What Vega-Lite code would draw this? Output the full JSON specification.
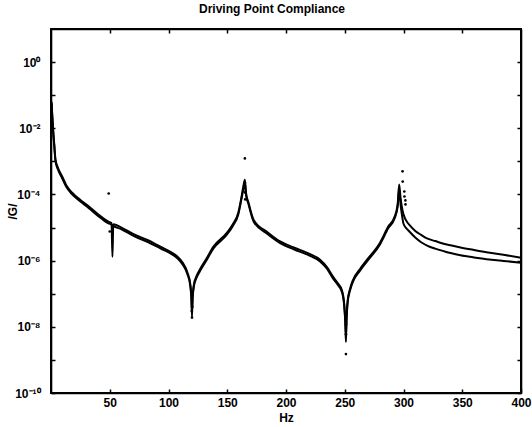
{
  "$schema": "https://vega.github.io/schema/vega-lite/v6.json",
  "width": 470,
  "height": 364,
  "autosize": {"type": "none"},
  "padding": {"left": 51, "top": 29, "right": 11, "bottom": 34},
  "config": {
    "font": "Liberation Sans",
    "view": {"stroke": "#000000", "strokeWidth": 2},
    "axis": {"grid": false, "labelFlush": false, "labelOverlap": false}
  },
  "title": {
    "text": "Driving Point Compliance",
    "fontSize": 12,
    "fontWeight": "bold",
    "anchor": "middle",
    "dx": -14,
    "offset": 12,
    "color": "#000000"
  },
  "data": {
    "values": [
      {"hz": 0.5, "g": 6.3e-2, "s": "A"}, {"hz": 1, "g": 2.8e-2, "s": "A"}, {"hz": 1.8, "g": 9.3e-3, "s": "A"},
      {"hz": 2.8, "g": 3.2e-3, "s": "A"}, {"hz": 3.8, "g": 1.15e-3, "s": "A"}, {"hz": 6, "g": 6.3e-4, "s": "A"},
      {"hz": 9.5, "g": 3.5e-4, "s": "A"}, {"hz": 13, "g": 1.9e-4, "s": "A"}, {"hz": 17.8, "g": 1.15e-4, "s": "A"},
      {"hz": 25, "g": 6.8e-5, "s": "A"}, {"hz": 32, "g": 4.4e-5, "s": "A"}, {"hz": 42.9, "g": 2.1e-5, "s": "A"},
      {"hz": 48.9, "g": 1.5e-5, "s": "A"}, {"hz": 51.5, "g": 1.38e-5, "s": "A"}, {"hz": 52.3, "g": 1.3e-6, "s": "A"},
      {"hz": 53, "g": 1.26e-5, "s": "A"}, {"hz": 60, "g": 1.0e-5, "s": "A"}, {"hz": 70.7, "g": 6.2e-6, "s": "A"},
      {"hz": 82, "g": 4.2e-6, "s": "A"}, {"hz": 93.5, "g": 2.6e-6, "s": "A"}, {"hz": 101, "g": 1.9e-6, "s": "A"},
      {"hz": 107.8, "g": 1.3e-6, "s": "A"}, {"hz": 112, "g": 8.7e-7, "s": "A"}, {"hz": 116.1, "g": 4.4e-7, "s": "A"},
      {"hz": 118.5, "g": 2.0e-7, "s": "A"}, {"hz": 119.5, "g": 7.9e-8, "s": "A"}, {"hz": 120, "g": 2.0e-8, "s": "A"},
      {"hz": 120.5, "g": 7.9e-8, "s": "A"}, {"hz": 121.5, "g": 1.8e-7, "s": "A"}, {"hz": 124, "g": 3.5e-7, "s": "A"},
      {"hz": 126.7, "g": 5.4e-7, "s": "A"}, {"hz": 132, "g": 1.1e-6, "s": "A"}, {"hz": 138.1, "g": 2.6e-6, "s": "A"},
      {"hz": 150, "g": 7.1e-6, "s": "A"}, {"hz": 155, "g": 1.3e-5, "s": "A"}, {"hz": 159.4, "g": 2.8e-5, "s": "A"},
      {"hz": 162, "g": 7.9e-5, "s": "A"}, {"hz": 164, "g": 2.0e-4, "s": "A"}, {"hz": 165, "g": 2.8e-4, "s": "A"},
      {"hz": 166, "g": 1.1e-4, "s": "A"}, {"hz": 168, "g": 5.8e-5, "s": "A"}, {"hz": 172.5, "g": 1.7e-5, "s": "A"},
      {"hz": 184.5, "g": 7.1e-6, "s": "A"}, {"hz": 195, "g": 3.8e-6, "s": "A"}, {"hz": 206.6, "g": 2.5e-6, "s": "A"},
      {"hz": 220, "g": 1.6e-6, "s": "A"}, {"hz": 229, "g": 1.07e-6, "s": "A"}, {"hz": 235, "g": 6.3e-7, "s": "A"},
      {"hz": 240, "g": 3.3e-7, "s": "A"}, {"hz": 244, "g": 2.1e-7, "s": "A"}, {"hz": 247.5, "g": 1.3e-7, "s": "A"},
      {"hz": 249.5, "g": 5.0e-8, "s": "A"}, {"hz": 250.5, "g": 1.26e-8, "s": "A"}, {"hz": 251, "g": 3.5e-9, "s": "A"},
      {"hz": 251.5, "g": 1.6e-8, "s": "A"}, {"hz": 252.5, "g": 6.3e-8, "s": "A"}, {"hz": 254.5, "g": 1.4e-7, "s": "A"},
      {"hz": 257, "g": 2.6e-7, "s": "A"}, {"hz": 263, "g": 5.6e-7, "s": "A"}, {"hz": 269, "g": 1.07e-6, "s": "A"},
      {"hz": 280, "g": 3.5e-6, "s": "A"}, {"hz": 287, "g": 1.07e-5, "s": "A"}, {"hz": 292.4, "g": 2.1e-5, "s": "A"},
      {"hz": 295, "g": 5.0e-5, "s": "A"}, {"hz": 296.3, "g": 2.0e-4, "s": "A"}, {"hz": 297.5, "g": 7.9e-5, "s": "A"},
      {"hz": 299, "g": 3.5e-5, "s": "A"}, {"hz": 300, "g": 2.5e-5, "s": "A"}, {"hz": 303.5, "g": 1.4e-5, "s": "A"},
      {"hz": 305, "g": 1.2e-5, "s": "A"}, {"hz": 310, "g": 7.9e-6, "s": "A"}, {"hz": 315, "g": 6.0e-6, "s": "A"},
      {"hz": 320.5, "g": 4.6e-6, "s": "A"}, {"hz": 327, "g": 3.9e-6, "s": "A"}, {"hz": 335, "g": 3.2e-6, "s": "A"},
      {"hz": 340, "g": 2.9e-6, "s": "A"}, {"hz": 348.5, "g": 2.5e-6, "s": "A"}, {"hz": 360, "g": 2.1e-6, "s": "A"},
      {"hz": 375, "g": 1.7e-6, "s": "A"}, {"hz": 385, "g": 1.5e-6, "s": "A"}, {"hz": 400, "g": 1.23e-6, "s": "A"},

      {"hz": 0.5, "g": 5.6e-2, "s": "B"}, {"hz": 1, "g": 2.5e-2, "s": "B"}, {"hz": 1.8, "g": 8.3e-3, "s": "B"},
      {"hz": 2.8, "g": 2.85e-3, "s": "B"}, {"hz": 3.8, "g": 1.02e-3, "s": "B"}, {"hz": 6, "g": 5.6e-4, "s": "B"},
      {"hz": 9.5, "g": 3.1e-4, "s": "B"}, {"hz": 13, "g": 1.7e-4, "s": "B"}, {"hz": 17.8, "g": 1.02e-4, "s": "B"},
      {"hz": 25, "g": 6.1e-5, "s": "B"}, {"hz": 32, "g": 3.9e-5, "s": "B"}, {"hz": 42.9, "g": 1.87e-5, "s": "B"},
      {"hz": 48.9, "g": 1.33e-5, "s": "B"}, {"hz": 51.5, "g": 1.23e-5, "s": "B"}, {"hz": 53, "g": 1.12e-5, "s": "B"},
      {"hz": 60, "g": 8.9e-6, "s": "B"}, {"hz": 70.7, "g": 5.5e-6, "s": "B"}, {"hz": 82, "g": 3.7e-6, "s": "B"},
      {"hz": 93.5, "g": 2.3e-6, "s": "B"}, {"hz": 101, "g": 1.7e-6, "s": "B"}, {"hz": 107.8, "g": 1.16e-6, "s": "B"},
      {"hz": 112, "g": 7.7e-7, "s": "B"}, {"hz": 116.1, "g": 3.9e-7, "s": "B"}, {"hz": 118.5, "g": 1.75e-7, "s": "B"},
      {"hz": 119.5, "g": 7.0e-8, "s": "B"}, {"hz": 120, "g": 3.0e-8, "s": "B"}, {"hz": 120.5, "g": 7.0e-8, "s": "B"},
      {"hz": 121.5, "g": 1.6e-7, "s": "B"}, {"hz": 124, "g": 3.1e-7, "s": "B"}, {"hz": 126.7, "g": 4.8e-7, "s": "B"},
      {"hz": 132, "g": 9.8e-7, "s": "B"}, {"hz": 138.1, "g": 2.3e-6, "s": "B"}, {"hz": 150, "g": 6.3e-6, "s": "B"},
      {"hz": 155, "g": 1.16e-5, "s": "B"}, {"hz": 159.4, "g": 2.5e-5, "s": "B"}, {"hz": 162, "g": 7.0e-5, "s": "B"},
      {"hz": 164, "g": 1.6e-4, "s": "B"}, {"hz": 165, "g": 2.2e-4, "s": "B"}, {"hz": 166, "g": 9.5e-5, "s": "B"},
      {"hz": 168, "g": 5.2e-5, "s": "B"}, {"hz": 172.5, "g": 1.5e-5, "s": "B"}, {"hz": 184.5, "g": 6.3e-6, "s": "B"},
      {"hz": 195, "g": 3.4e-6, "s": "B"}, {"hz": 206.6, "g": 2.2e-6, "s": "B"}, {"hz": 220, "g": 1.42e-6, "s": "B"},
      {"hz": 229, "g": 9.5e-7, "s": "B"}, {"hz": 235, "g": 5.6e-7, "s": "B"}, {"hz": 240, "g": 2.9e-7, "s": "B"},
      {"hz": 244, "g": 1.87e-7, "s": "B"}, {"hz": 247.5, "g": 1.16e-7, "s": "B"}, {"hz": 249.5, "g": 4.5e-8, "s": "B"},
      {"hz": 250.5, "g": 1.4e-8, "s": "B"}, {"hz": 251, "g": 6.0e-9, "s": "B"}, {"hz": 251.5, "g": 1.6e-8, "s": "B"},
      {"hz": 252.5, "g": 5.6e-8, "s": "B"}, {"hz": 254.5, "g": 1.25e-7, "s": "B"}, {"hz": 257, "g": 2.3e-7, "s": "B"},
      {"hz": 263, "g": 5.0e-7, "s": "B"}, {"hz": 269, "g": 9.5e-7, "s": "B"}, {"hz": 280, "g": 3.1e-6, "s": "B"},
      {"hz": 287, "g": 9.5e-6, "s": "B"}, {"hz": 292.4, "g": 1.87e-5, "s": "B"}, {"hz": 295, "g": 4.2e-5, "s": "B"},
      {"hz": 296.3, "g": 1.4e-4, "s": "B"}, {"hz": 297.5, "g": 5.0e-5, "s": "B"}, {"hz": 299, "g": 2.0e-5, "s": "B"},
      {"hz": 300, "g": 1.3e-5, "s": "B"}, {"hz": 303.5, "g": 8.7e-6, "s": "B"}, {"hz": 305, "g": 7.6e-6, "s": "B"},
      {"hz": 310, "g": 5.0e-6, "s": "B"}, {"hz": 315, "g": 3.6e-6, "s": "B"}, {"hz": 320.5, "g": 2.8e-6, "s": "B"},
      {"hz": 327, "g": 2.3e-6, "s": "B"}, {"hz": 335, "g": 1.9e-6, "s": "B"}, {"hz": 340, "g": 1.7e-6, "s": "B"},
      {"hz": 348.5, "g": 1.45e-6, "s": "B"}, {"hz": 360, "g": 1.25e-6, "s": "B"}, {"hz": 375, "g": 1.07e-6, "s": "B"},
      {"hz": 385, "g": 9.8e-7, "s": "B"}, {"hz": 400, "g": 8.7e-7, "s": "B"},

      {"hz": 49.1, "g": 1.07e-4, "s": "dot"}, {"hz": 50, "g": 7.6e-6, "s": "dot"},
      {"hz": 119.8, "g": 3.0e-8, "s": "dot"}, {"hz": 120.2, "g": 4.0e-8, "s": "dot"}, {"hz": 120, "g": 1.9e-8, "s": "dot"},
      {"hz": 165, "g": 1.23e-3, "s": "dot"}, {"hz": 165, "g": 2.3e-4, "s": "dot"}, {"hz": 165.2, "g": 1.15e-4, "s": "dot"},
      {"hz": 165.3, "g": 7.1e-5, "s": "dot"},
      {"hz": 250.9, "g": 2.2e-8, "s": "dot"}, {"hz": 251.1, "g": 1.2e-8, "s": "dot"}, {"hz": 251, "g": 6.0e-9, "s": "dot"},
      {"hz": 251, "g": 1.5e-9, "s": "dot"},
      {"hz": 299.2, "g": 5.0e-4, "s": "dot"}, {"hz": 299.3, "g": 2.45e-4, "s": "dot"}, {"hz": 300.7, "g": 1.23e-4, "s": "dot"},
      {"hz": 300.8, "g": 8.7e-5, "s": "dot"}, {"hz": 301.6, "g": 6.6e-5, "s": "dot"}, {"hz": 301.7, "g": 5.0e-5, "s": "dot"}
    ]
  },
  "layer": [
    {
      "mark": {"type": "rect", "filled": false, "stroke": "#000000", "strokeWidth": 1.6},
      "encoding": {
        "x": {"datum": 0, "type": "quantitative", "axis": null},
        "x2": {"datum": 400},
        "y": {"datum": 1e-10, "type": "quantitative", "axis": null},
        "y2": {"datum": 10}
      }
    },
    {
      "transform": [{"filter": "datum.s != 'dot'"}],
      "mark": {"type": "line", "color": "#000000", "strokeWidth": 2, "interpolate": "monotone"},
      "encoding": {
        "x": {
          "field": "hz", "type": "quantitative",
          "scale": {"domain": [0, 400], "nice": false, "zero": false},
          "axis": {
            "orient": "bottom", "values": [50, 100, 150, 200, 250, 300, 350, 400],
            "domainColor": "#000000", "domainWidth": 1.6, "tickColor": "#000000", "tickWidth": 1.5, "tickSize": -4, "labelPadding": 8,
            "labelColor": "#000000", "labelFontSize": 12, "labelFontWeight": "bold",
            "title": "Hz", "titleColor": "#000000", "titleFontSize": 12, "titleFontWeight": "bold", "titlePadding": 4
          }
        },
        "y": {
          "field": "g", "type": "quantitative",
          "scale": {"type": "log", "domain": [1e-10, 10], "nice": false},
          "axis": {
            "orient": "left",
            "values": [1e-10, 1e-9, 1e-8, 1e-7, 1e-6, 1e-5, 1e-4, 1e-3, 1e-2, 1e-1, 1],
            "labelExpr": "['10⁰', '', '10⁻²', '', '10⁻⁴', '', '10⁻⁶', '', '10⁻⁸', '', '10⁻¹⁰'][round(-log(datum.value) / LN10)]",
            "domainColor": "#000000", "domainWidth": 1.6, "tickColor": "#000000", "tickWidth": 1.5, "tickSize": -4, "labelPadding": 15,
            "labelColor": "#000000", "labelFontSize": 12, "labelFontWeight": "bold",
            "title": "/G/", "titleColor": "#000000", "titleFontSize": 12, "titleFontWeight": "bold",
            "titleX": -39, "titleY": 182, "titleAngle": -90, "titleAlign": "center", "titleBaseline": "middle"
          }
        },
        "detail": {"field": "s", "type": "nominal"}
      }
    },
    {
      "transform": [{"filter": "datum.s == 'dot'"}],
      "mark": {"type": "circle", "color": "#000000", "size": 7, "opacity": 1},
      "encoding": {
        "x": {
          "field": "hz", "type": "quantitative",
          "axis": {"orient": "top", "values": [50, 100, 150, 200, 250, 300, 350], "domainColor": "#000000", "domainWidth": 1.6, "tickColor": "#000000", "tickWidth": 1.5, "tickSize": -4, "labels": false, "title": null}
        },
        "y": {
          "field": "g", "type": "quantitative",
          "axis": {
            "orient": "right",
            "values": [1e-10, 1e-9, 1e-8, 1e-7, 1e-6, 1e-5, 1e-4, 1e-3, 1e-2, 1e-1, 1],
            "domainColor": "#000000", "domainWidth": 1.6, "tickColor": "#000000", "tickWidth": 1.5, "tickSize": -4, "labels": false, "title": null
          }
        }
      }
    }
  ],
  "resolve": {"axis": {"x": "independent", "y": "independent"}}
}
